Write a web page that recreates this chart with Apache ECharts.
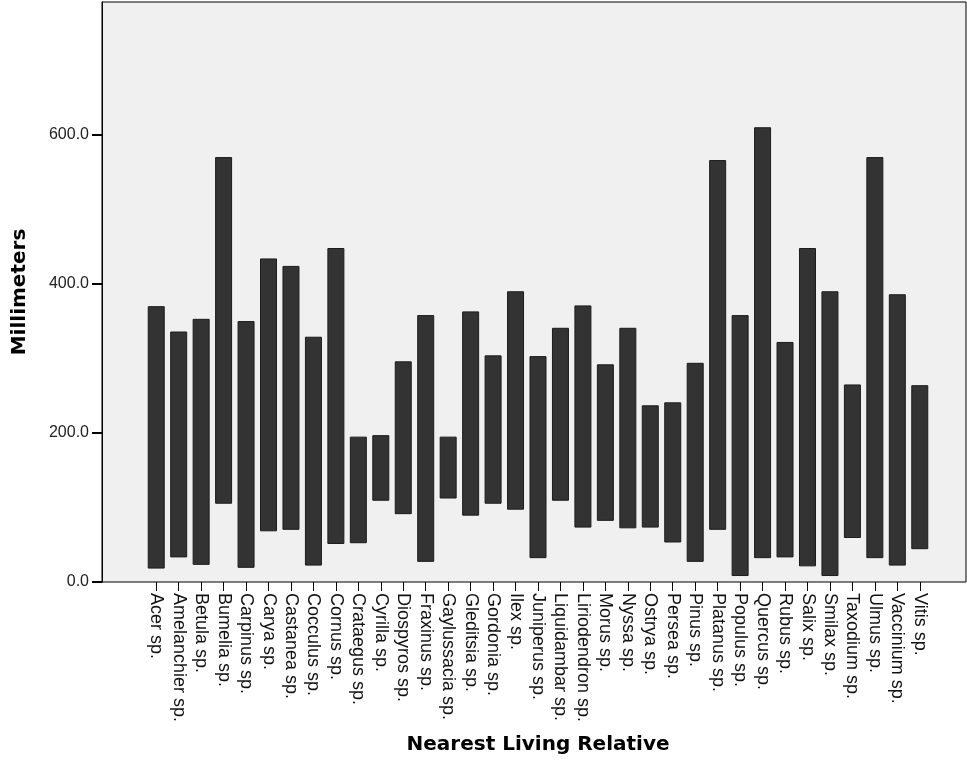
<!DOCTYPE html>
<html>
<head>
<meta charset="utf-8">
<script src="https://cdn.jsdelivr.net/npm/echarts@6/dist/echarts.min.js"></script>
<style>
html,body{margin:0;padding:0;background:#fff;}
#chart{width:967px;height:763px;}
</style>
</head>
<body>
<div id="chart"></div>
<script>
const categories = ['Acer sp.','Amelanchier sp.','Betula sp.','Bumelia sp.','Carpinus sp.','Carya sp.','Castanea sp.','Cocculus sp.','Cornus sp.','Crataegus sp.','Cyrilla sp.','Diospyros sp.','Fraxinus sp.','Gaylussacia sp.','Gleditsia sp.','Gordonia sp.','Ilex sp.','Juniperus sp.','Liquidambar sp.','Liriodendron sp.','Morus sp.','Nyssa sp.','Ostrya sp.','Persea sp.','Pinus sp.','Platanus sp.','Populus sp.','Quercus sp.','Rubus sp.','Salix sp.','Smilax sp.','Taxodium sp.','Ulmus sp.','Vaccinium sp.','Vitis sp.'];
const lowValues  = [18, 33, 23, 105, 19, 68, 70, 22, 51, 52, 109, 91, 27, 112, 89, 105, 97, 32, 109, 73, 82, 72, 73, 53, 27, 70, 8, 32, 33, 21, 8, 59, 32, 22, 44];
const highValues = [370, 336, 353, 570, 350, 434, 424, 329, 448, 195, 197, 296, 358, 195, 363, 304, 390, 303, 341, 371, 292, 341, 237, 241, 294, 566, 358, 610, 322, 448, 390, 265, 570, 386, 264];
const yTicks = [0, 200, 400, 600];
const yMax = 778;

const spanValues = highValues.map((h, i) => h - lowValues[i]);

const chart = echarts.init(document.getElementById('chart'), null, {renderer: 'canvas'});
chart.setOption({
  animation: false,
  backgroundColor: '#ffffff',
  grid: [
    {left: 102, right: 1, top: 2, bottom: 181, show: true, backgroundColor: '#f0f0f0', borderColor: '#000', borderWidth: 1},
    {left: 145, right: 36, top: 2, bottom: 181}
  ],
  xAxis: [
    {gridIndex: 0, type: 'value', show: false},
    {
      gridIndex: 1, type: 'category', data: categories, boundaryGap: true,
      axisLine: {show: false},
      axisTick: {show: true, alignWithLabel: true, length: 9, lineStyle: {color: '#000', width: 1}},
      axisLabel: {interval: 0, rotate: -90, margin: 11, fontSize: 18, fontFamily: 'Liberation Sans, Arial, sans-serif', color: '#111'},
      name: 'Nearest Living Relative', nameLocation: 'middle', nameGap: 153,
      nameTextStyle: {fontSize: 20, fontWeight: 'bold', fontFamily: 'DejaVu Sans, sans-serif', color: '#000'}
    }
  ],
  yAxis: [
    {
      gridIndex: 0, type: 'value', min: 0, max: yMax, interval: 200,
      splitLine: {show: false},
      axisLine: {show: true, lineStyle: {color: '#000', width: 1}},
      axisTick: {show: true, length: 10, customValues: yTicks, lineStyle: {color: '#000', width: 2}},
      axisLabel: {customValues: yTicks, margin: 13, fontSize: 16, fontFamily: 'Liberation Sans, Arial, sans-serif', color: '#222',
                  formatter: v => Number(v).toFixed(1)},
      name: 'Millimeters', nameLocation: 'middle', nameGap: 72, nameRotate: 90,
      nameTextStyle: {fontSize: 20, fontWeight: 'bold', fontFamily: 'DejaVu Sans, sans-serif', color: '#000'}
    },
    {gridIndex: 1, type: 'value', min: 0, max: yMax, show: false, splitLine: {show: false}}
  ],
  series: [
    {
      type: 'bar', xAxisIndex: 1, yAxisIndex: 1, stack: 'range', data: lowValues,
      itemStyle: {color: 'transparent'}, barWidth: 17, silent: true
    },
    {
      type: 'bar', xAxisIndex: 1, yAxisIndex: 1, stack: 'range', data: spanValues,
      itemStyle: {color: '#333333', borderColor: '#1c1c1c', borderWidth: 1}, barWidth: 17
    }
  ]
});
</script>
</body>
</html>
